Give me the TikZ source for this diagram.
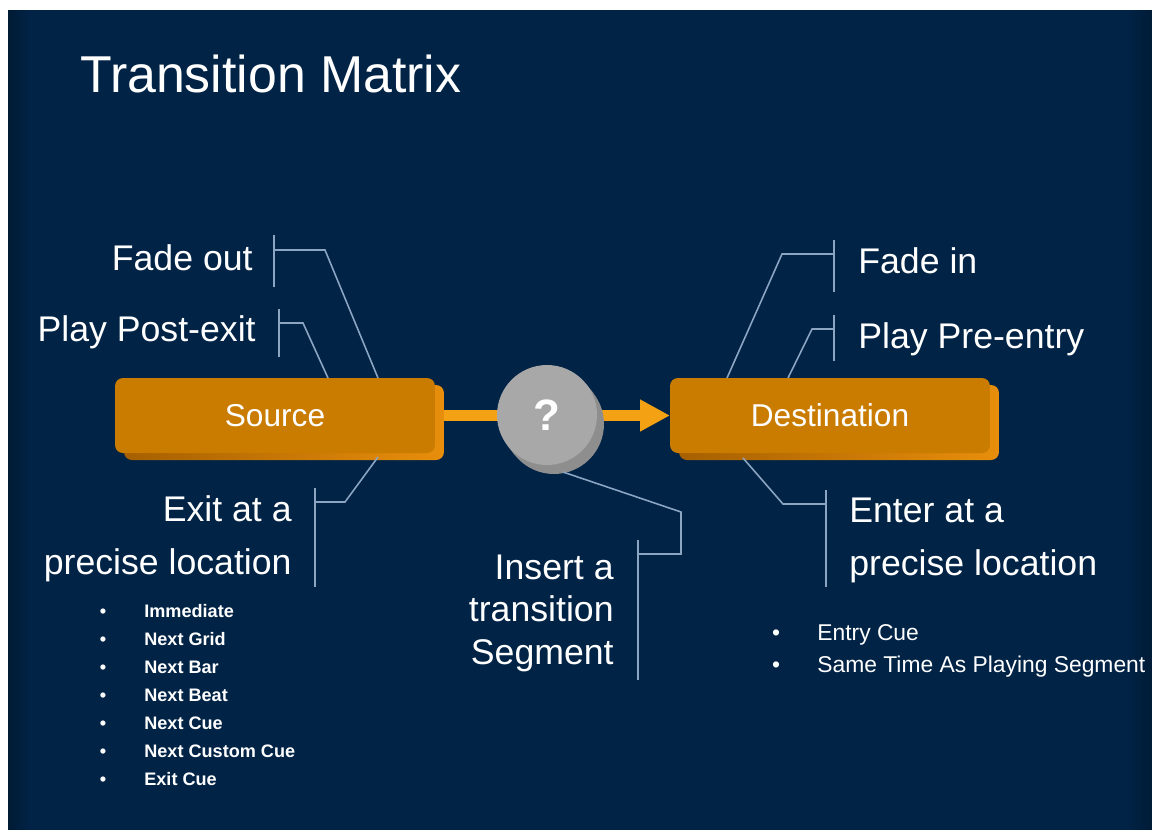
\documentclass[tikz,border=0pt]{standalone}
\usepackage{fontspec}
\setmainfont{Liberation Sans}
\usetikzlibrary{calc,arrows.meta}

\definecolor{slidebg}{RGB}{1,35,70}
\definecolor{slideedge}{RGB}{0,27,52}
\definecolor{boxface}{RGB}{201,124,0}
\definecolor{boxdark}{RGB}{166,96,0}
\definecolor{boxlight}{RGB}{232,142,12}
\definecolor{flow}{RGB}{244,162,20}
\definecolor{coinface}{RGB}{168,168,168}
\definecolor{coinside}{RGB}{142,142,142}
\definecolor{callout}{RGB}{140,165,195}

\begin{document}
\begin{tikzpicture}[x=0.02cm, y=-0.02cm,
    slab/.style={rounded corners=4.5pt, minimum width=6.4cm, minimum height=1.5cm, inner sep=0pt},
    slabtext/.style={text=white, font=\fontsize{18}{22}\selectfont},
    lead/.style={draw=callout, line width=0.9pt},
    big/.style={text=white, inner sep=0pt, font=\fontsize{20.3}{30}\selectfont},
    cue/.style={text=white, inner sep=0pt, anchor=base west}]

    % 1. Define Coordinates
    \coordinate (S) at (275,415.5);
    \coordinate (D) at (830,415.5);
    \coordinate (C) at (547,415);

    % bends and brackets of the callouts
    \coordinate (foFoot) at (378,378);  \coordinate (foBend) at (325,250);  \coordinate (foBar) at (274,250);
    \coordinate (peFoot) at (328,378);  \coordinate (peBend) at (303,323);  \coordinate (peBar) at (279,323);
    \coordinate (exFoot) at (378,457);  \coordinate (exBend) at (345,502);  \coordinate (exBar) at (315,502);
    \coordinate (inFoot) at (563,472);  \coordinate (inBendA) at (681,512); \coordinate (inBendB) at (681,554);
    \coordinate (inBar) at (638,554);
    \coordinate (fiFoot) at (727,378);  \coordinate (fiBend) at (782,254);  \coordinate (fiBar) at (834,254);
    \coordinate (prFoot) at (788,378);  \coordinate (prBend) at (812,329);  \coordinate (prBar) at (834,329);
    \coordinate (enFoot) at (743,458);  \coordinate (enBend) at (783,504);  \coordinate (enBar) at (826,504);

    % 2. The slide
    \useasboundingbox (0,0) rectangle (1152,829);
    \fill[white] (0,0) rectangle (1152,829);
    \fill[slidebg] (8,10) rectangle (1156,834);
    \shade[left color=slideedge, right color=slidebg] (8,10) rectangle (30,834);
    \shade[left color=slidebg, right color=slideedge] (1126,10) rectangle (1156,834);

    \node[big, anchor=base west, font=\fontsize{29.5}{34}\selectfont] (title) at (80,92) {Transition Matrix};

    % 3. Flow arrow (under the boxes and the coin)
    \draw[flow, line width=6.8pt, -{Triangle[length=0.6cm, width=0.6cm]}] (S) -- ($(D)+(-160,0)$);

    % 4. Source and Destination boxes with depth
    \node[slab, left color=boxdark, right color=boxlight] (srcdepth) at ($(S)+(9,7)$) {};
    \node[slab, fill=boxface, slabtext] (src) at (S) {Source};
    \node[slab, left color=boxdark, right color=boxlight] (dstdepth) at ($(D)+(9,7)$) {};
    \node[slab, fill=boxface, slabtext] (dst) at (D) {Destination};

    % 5. The coin
    \fill[coinside] ($(C)+(7,9)$) circle (1cm);
    \fill[coinside] ($(C)+(-39.5,30.7)$) -- ($(C)+(-32.5,39.7)$) -- ($(C)+(46.5,-21.7)$) -- ($(C)+(39.5,-30.7)$) -- cycle;
    \node[circle, fill=coinface, minimum size=2cm, inner sep=0pt, text=white,
          font=\bfseries\fontsize{25}{30}\selectfont] (coin) at (C) {?};

    % 6. Callout leads with their brackets
    \draw[lead] (foFoot) -- (foBend) -- (foBar);
    \draw[lead] ($(foBar)+(0,-15)$) -- ($(foBar)+(0,37)$);
    \draw[lead] (peFoot) -- (peBend) -- (peBar);
    \draw[lead] ($(peBar)+(0,-14)$) -- ($(peBar)+(0,34)$);
    \draw[lead] (exFoot) -- (exBend) -- (exBar);
    \draw[lead] ($(exBar)+(0,-14)$) -- ($(exBar)+(0,85)$);
    \draw[lead] (inFoot) -- (inBendA) -- (inBendB) -- (inBar);
    \draw[lead] ($(inBar)+(0,-14)$) -- ($(inBar)+(0,126)$);
    \draw[lead] (fiFoot) -- (fiBend) -- (fiBar);
    \draw[lead] ($(fiBar)+(0,-14)$) -- ($(fiBar)+(0,38)$);
    \draw[lead] (prFoot) -- (prBend) -- (prBar);
    \draw[lead] ($(prBar)+(0,-14)$) -- ($(prBar)+(0,32)$);
    \draw[lead] (enFoot) -- (enBend) -- (enBar);
    \draw[lead] ($(enBar)+(0,-14)$) -- ($(enBar)+(0,83)$);

    % 7. Callout texts (multi-line ones sit on their last baseline)
    \node[big, anchor=base east] (fadeout) at (253,270) {Fade out};
    \node[big, anchor=base east] (postexit) at (256,341) {Play Post-exit};
    \node[big, anchor=base east, align=right] (exitat) at (292,574) {Exit at a\\precise location};
    \node[big, anchor=base east, align=right, font=\fontsize{20.3}{24}\selectfont] (insert) at (614,664) {Insert a\\transition\\Segment};
    \node[big, anchor=base west] (fadein) at (858,273) {Fade in};
    \node[big, anchor=base west] (preentry) at (858,348) {Play Pre-entry};
    \node[big, anchor=base west, align=left] (enterat) at (849,575) {Enter at a\\precise location};

    % 8. Cue lists
    \foreach \cuename [count=\i] in {Immediate, Next Grid, Next Bar, Next Beat, Next Cue, Next Custom Cue, Exit Cue} {
        \node[cue, anchor=base, font=\bfseries\fontsize{10.3}{12}\selectfont] (exitdot\i) at (103, 589+28*\i) {\textbullet};
        \node[cue, font=\bfseries\fontsize{10.3}{12}\selectfont] (exit\i) at (144, 589+28*\i) {\cuename};
    }
    \foreach \cuename [count=\i] in {Entry Cue, Same Time As Playing Segment} {
        \node[cue, anchor=base, font=\fontsize{13}{15}\selectfont] (entrydot\i) at (776, 608+32*\i) {\textbullet};
        \node[cue, font=\fontsize{13}{15}\selectfont] (entry\i) at (817, 608+32*\i) {\cuename};
    }

\end{tikzpicture}
\end{document}
